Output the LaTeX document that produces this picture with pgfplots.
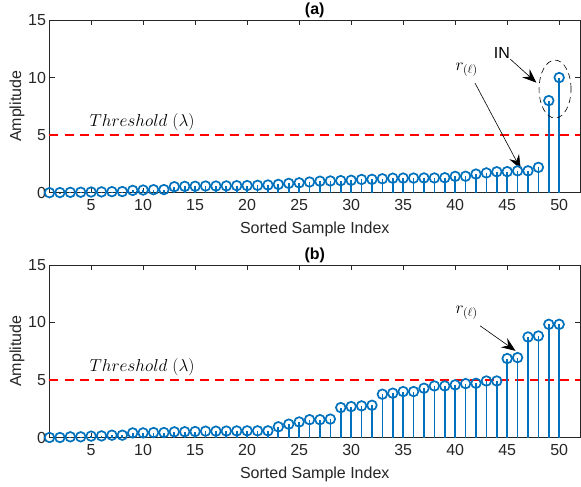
\documentclass[border=0pt]{standalone}
\usepackage{pgfplots}
\pgfplotsset{compat=1.18}
\usepackage{pgfplotstable}
\usepackage{fontspec}
\setmainfont{Liberation Sans}
\usetikzlibrary{arrows.meta}

\definecolor{mblue}{rgb}{0,0.447,0.741}
\definecolor{axgray}{rgb}{0.15,0.15,0.15}

\pgfplotstableread{
idx amp
1 0.00
2 0.01
3 0.03
4 0.04
5 0.06
6 0.07
7 0.09
8 0.10
9 0.20
10 0.23
11 0.26
12 0.27
13 0.52
14 0.55
15 0.56
16 0.58
17 0.58
18 0.59
19 0.61
20 0.62
21 0.64
22 0.67
23 0.72
24 0.81
25 0.86
26 0.93
27 1.00
28 1.02
29 1.05
30 1.08
31 1.15
32 1.16
33 1.21
34 1.26
35 1.27
36 1.27
37 1.28
38 1.28
39 1.30
40 1.42
41 1.43
42 1.62
43 1.72
44 1.82
45 1.83
46 1.90
47 1.90
48 2.20
49 8.00
50 10.00
}\dataA

\pgfplotstableread{
idx amp
1 0.00
2 0.00
3 0.06
4 0.06
5 0.12
6 0.14
7 0.20
8 0.20
9 0.40
10 0.40
11 0.43
12 0.43
13 0.49
14 0.50
15 0.52
16 0.55
17 0.55
18 0.56
19 0.57
20 0.58
21 0.58
22 0.58
23 0.93
24 1.16
25 1.35
26 1.55
27 1.55
28 1.60
29 2.60
30 2.69
31 2.75
32 2.80
33 3.76
34 3.85
35 3.99
36 3.99
37 4.28
38 4.48
39 4.48
40 4.57
41 4.68
42 4.71
43 4.91
44 4.91
45 6.86
46 6.94
47 8.73
48 8.82
49 9.83
50 9.83
}\dataB

\tikzset{
  arr/.style={line width=0.6pt, -{Stealth[length=14pt, width=11pt, inset=5pt]}},
}

\pgfplotsset{
  stemax/.style={
    scale only axis,
    width=530.5pt, height=172.7pt,
    xmin=1, xmax=52, ymin=0, ymax=15,
    xtick={5,10,...,50}, ytick={0,5,10,15},
    xtick pos=both, ytick pos=both,
    tick align=inside, major tick length=5pt,
    axis line style={draw=axgray, line width=0.6pt},
    tick style={draw=axgray, line width=0.6pt},
    every tick label/.append style={text=axgray},
    tick label style={font=\fontsize{16}{19}\selectfont},
    xticklabel style={yshift=-3pt},
    /pgf/number format/assume math mode=true,
    label style={font=\fontsize{16}{19}\selectfont, text=axgray},
    xlabel={Sorted Sample Index},
    ylabel={Amplitude},
    xlabel style={at={(axis description cs:0.5,0)}, anchor=base, yshift=-40.6pt},
    ylabel style={at={(axis description cs:-0.0537,0.5)}, anchor=base},
    title style={at={(axis description cs:0.5,1)}, anchor=base, yshift=-0.2pt,
      font=\fontsize{16}{19}\selectfont\bfseries},
    clip=false,
  },
  stem/.style={ycomb, draw=mblue, line width=1.7pt,
    mark=o, mark size=4.8pt, mark options={draw=mblue, fill=none, line width=1.7pt}},
  thresh/.style={draw=red, line width=2pt, dash pattern=on 9pt off 6pt},
}

\begin{document}
\begin{tikzpicture}[x=1pt,y=1pt]
\path[use as bounding box] (0,0) rectangle (581,-487);

\begin{axis}[stemax, at={(49.5pt,-192.7pt)}, anchor=south west, title={(a)}]
  \addplot[thresh] coordinates {(1,5) (52,5)};
  \addplot[stem] table[x=idx, y=amp] {\dataA};
  \node[font=\fontsize{17.5}{20}\selectfont] at (axis cs:9.9,6.1) {$Threshold\ (\lambda)$};
  \node[font=\fontsize{17.5}{20}\selectfont] at (axis cs:41.1,10.66) {$r_{(\ell)}$};
  \draw[arr] (axis cs:41.9,9.53) -- (axis cs:46.3,2.06);
  \node[font=\fontsize{16}{19}\selectfont] at (axis cs:44.5,12.1) {IN};
  \draw[arr] (axis cs:45.3,11.6) -- (axis cs:47.8,9.56);
  \draw[line width=0.6pt, dash pattern=on 6pt off 4pt]
    (axis cs:49.6,9.0) ellipse [x radius=16pt, y radius=29pt];
\end{axis}

\begin{axis}[stemax, at={(49.5pt,-437.5pt)}, anchor=south west, title={(b)}]
  \addplot[thresh] coordinates {(1,5) (52,5)};
  \addplot[stem] table[x=idx, y=amp] {\dataB};
  \node[font=\fontsize{17.5}{20}\selectfont] at (axis cs:9.9,6.15) {$Threshold\ (\lambda)$};
  \node[font=\fontsize{17.5}{20}\selectfont] at (axis cs:41.1,10.8) {$r_{(\ell)}$};
  \draw[arr] (axis cs:42.4,9.7) -- (axis cs:45.8,7.53);
\end{axis}
\end{tikzpicture}
\end{document}
